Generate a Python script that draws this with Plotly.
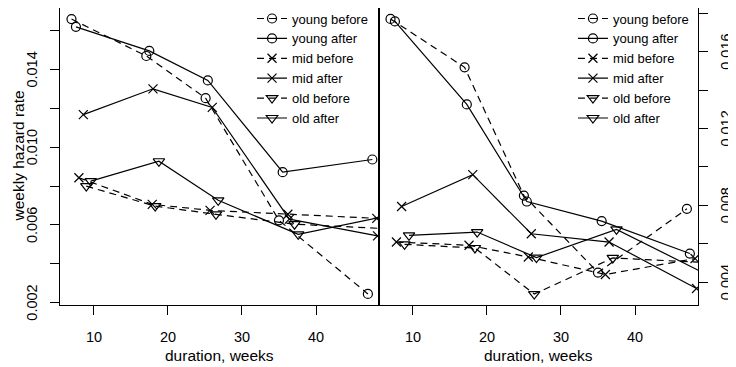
import plotly.graph_objects as go

# ---- data ----
series_names = ["young before", "young after", "mid before", "mid after", "old before", "old after"]

# left panel
L_young_before_x = [7.0, 17.1, 25.1, 35.0, 47.0]
L_young_before_y = [0.0166, 0.0147, 0.01253, 0.00624, 0.00245]
L_young_after_x = [7.6, 17.5, 25.4, 35.5, 47.6]
L_young_after_y = [0.0162, 0.01496, 0.01344, 0.00872, 0.00937]
L_mid_before_x = [8.0, 17.9, 25.7, 36.2, 48.2]
L_mid_before_y = [0.00843, 0.00706, 0.00675, 0.00655, 0.00634]
L_mid_after_x = [8.6, 18.0, 26.0, 36.4, 48.3]
L_mid_after_y = [0.01168, 0.01301, 0.01205, 0.0063, 0.00544]
L_old_before_x = [9.0, 18.3, 26.5, 37.1, 50.0]
L_old_before_y = [0.0080, 0.00697, 0.00655, 0.00604, 0.0058]
L_old_after_x = [9.6, 18.8, 26.8, 37.6, 50.0]
L_old_after_y = [0.00826, 0.00928, 0.00727, 0.00552, 0.0065]

# right panel
R_young_before_x = [7.0, 17.0, 25.0, 35.0, 47.0]
R_young_before_y = [0.01771, 0.01519, 0.00851, 0.0045, 0.00782]
R_young_after_x = [7.6, 17.3, 25.4, 35.5, 47.4]
R_young_after_y = [0.01758, 0.01326, 0.0082, 0.00718, 0.00549]
R_mid_before_x = [7.8, 17.6, 25.6, 36.0, 48.1]
R_mid_before_y = [0.00609, 0.00592, 0.00531, 0.0044, 0.00523]
R_mid_after_x = [8.5, 18.1, 26.0, 36.5, 48.3]
R_mid_after_y = [0.00794, 0.0096, 0.00652, 0.00609, 0.00367]
R_old_before_x = [8.9, 18.4, 26.4, 37.0, 50.0]
R_old_before_y = [0.00597, 0.00578, 0.00338, 0.00526, 0.00501]
R_old_after_x = [9.5, 18.7, 26.7, 37.5, 50.0]
R_old_after_y = [0.00644, 0.00661, 0.00528, 0.00675, 0.00434]

# ticks and tick labels
x_ticks = [10, 20, 30, 40]
x_ticklabels = ["10", "20", "30", "40"]
yL_ticks = [0.002, 0.004, 0.006, 0.008, 0.010, 0.012, 0.014, 0.016]
yL_labels = [0.002, 0.006, 0.010, 0.014]
yL_ticklabels = ["0.002", "0.006", "0.010", "0.014"]
yR_ticks = [0.004, 0.006, 0.008, 0.010, 0.012, 0.014, 0.016, 0.018]
yR_labels = [0.004, 0.008, 0.012, 0.016]
yR_ticklabels = ["0.004", "0.008", "0.012", "0.016"]
x_title = "duration, weeks"
y_title = "weekly hazard rate"

# ---- styles ----
FONT = "Liberation Sans, Arial, Helvetica, sans-serif"
DASH = "7px,5px"
TICK_SIZE = 14.5
TITLE_SIZE = 15.5
styles = {
    "young before": dict(symbol="circle-open", size=9, dash=DASH),
    "young after": dict(symbol="circle-open", size=9, dash="solid"),
    "mid before": dict(symbol="x-thin-open", size=9, dash=DASH),
    "mid after": dict(symbol="x-thin-open", size=9, dash="solid"),
    "old before": dict(symbol="triangle-down-open", size=10, dash=DASH),
    "old after": dict(symbol="triangle-down-open", size=10, dash="solid"),
}

left = [
    (L_young_before_x, L_young_before_y), (L_young_after_x, L_young_after_y),
    (L_mid_before_x, L_mid_before_y), (L_mid_after_x, L_mid_after_y),
    (L_old_before_x, L_old_before_y), (L_old_after_x, L_old_after_y),
]
right = [
    (R_young_before_x, R_young_before_y), (R_young_after_x, R_young_after_y),
    (R_mid_before_x, R_mid_before_y), (R_mid_after_x, R_mid_after_y),
    (R_old_before_x, R_old_before_y), (R_old_after_x, R_old_after_y),
]

fig = go.Figure()
for panel, (xa, ya, lg) in zip([left, right], [("x", "y", "legend"), ("x2", "y2", "legend2")]):
    for name, (xs, ys) in zip(series_names, panel):
        st = styles[name]
        fig.add_trace(go.Scatter(
            x=xs, y=ys, name=name, mode="lines+markers",
            xaxis=xa, yaxis=ya, legend=lg,
            line=dict(color="black", width=1.2, dash=st["dash"]),
            marker=dict(symbol=st["symbol"], size=st["size"], color="black",
                        line=dict(color="black", width=1.2)),
        ))

axis_common = dict(
    showline=True, mirror=True, linecolor="black", linewidth=1.3,
    showgrid=False, zeroline=False, ticks="outside", ticklen=9,
    tickcolor="black", tickwidth=1.2, automargin=False, showticklabels=False,
)

annotations = []
tick_font = dict(family=FONT, size=TICK_SIZE, color="black")
title_font = dict(family=FONT, size=TITLE_SIZE, color="black")
for xref, yref in [("x", "y domain"), ("x2", "y2 domain")]:
    for v, t in zip(x_ticks, x_ticklabels):
        annotations.append(dict(x=v, xref=xref, y=0, yref=yref, text=t, showarrow=False,
                                xanchor="center", yanchor="middle", yshift=-32, font=tick_font))
    annotations.append(dict(x=0.5, xref=xref + " domain", y=0, yref=yref, text=x_title,
                            showarrow=False, xanchor="center", yanchor="middle", yshift=-50,
                            font=title_font))
for v, t in zip(yL_labels, yL_ticklabels):
    annotations.append(dict(x=0, xref="x domain", y=v, yref="y", text=t, showarrow=False,
                            textangle=-90, xanchor="center", yanchor="middle", xshift=-28,
                            font=tick_font))
for v, t in zip(yR_labels, yR_ticklabels):
    annotations.append(dict(x=1, xref="x2 domain", y=v, yref="y2", text=t, showarrow=False,
                            textangle=-90, xanchor="center", yanchor="middle", xshift=28,
                            font=tick_font))
annotations.append(dict(x=0, xref="x domain", y=0.5, yref="y domain", text=y_title,
                        showarrow=False, textangle=-90, xanchor="center", yanchor="middle",
                        xshift=-42, font=title_font))

# the page body adds an 8px offset, margins compensate for it
fig.update_layout(
    width=736, height=367,
    margin=dict(l=52, r=46, t=0, b=70, autoexpand=False),
    paper_bgcolor="white", plot_bgcolor="white",
    font=dict(family=FONT, color="black"),
    xaxis=dict(domain=[0, 0.5], range=[5.45, 48.5], tickvals=x_ticks, anchor="y", **axis_common),
    yaxis=dict(range=[0.00188, 0.01717], tickvals=yL_ticks, anchor="x", **axis_common),
    xaxis2=dict(domain=[0.5, 1], range=[5.45, 48.5], tickvals=x_ticks, anchor="y2", **axis_common),
    yaxis2=dict(range=[0.00281, 0.01828], tickvals=yR_ticks, anchor="x2", side="right",
                **axis_common),
    legend=dict(x=0.301, y=1.015, xanchor="left", yanchor="top", bgcolor="rgba(0,0,0,0)",
                font=dict(family=FONT, size=13), itemwidth=30, tracegroupgap=0),
    legend2=dict(x=0.804, y=1.015, xanchor="left", yanchor="top", bgcolor="rgba(0,0,0,0)",
                 font=dict(family=FONT, size=13), itemwidth=30, tracegroupgap=0),
    annotations=annotations,
    showlegend=True,
)

fig.write_html("out.html")
